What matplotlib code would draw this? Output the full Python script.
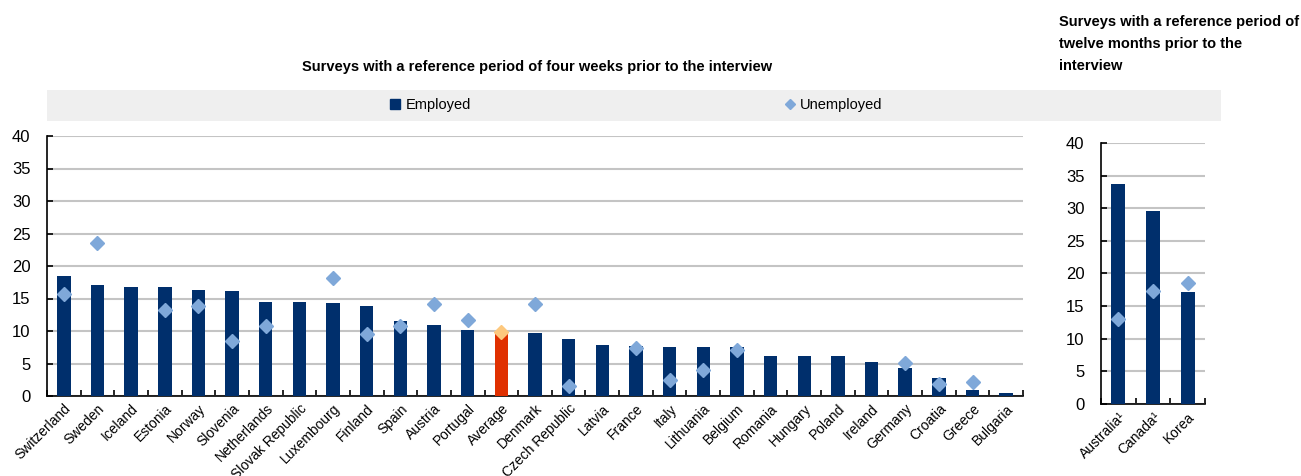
import matplotlib
matplotlib.use("Agg")
import matplotlib.pyplot as plt
from matplotlib.lines import Line2D
from matplotlib.patches import Rectangle
import numpy as np

plt.rcParams['font.family'] = ['Liberation Sans', 'DejaVu Sans']

# Data: share (%) by employment status
countries_4w = ["Switzerland", "Sweden", "Iceland", "Estonia", "Norway", "Slovenia",
                "Netherlands", "Slovak Republic", "Luxembourg", "Finland", "Spain",
                "Austria", "Portugal", "Average", "Denmark", "Czech Republic", "Latvia",
                "France", "Italy", "Lithuania", "Belgium", "Romania", "Hungary",
                "Poland", "Ireland", "Germany", "Croatia", "Greece", "Bulgaria"]
employed_4w = [18.4, 17.1, 16.8, 16.7, 16.3, 16.1, 14.5, 14.4, 14.3, 13.9, 11.5,
               11.0, 10.1, 10.0, 9.7, 8.7, 7.8, 7.7, 7.6, 7.6, 7.5, 6.2, 6.1,
               6.1, 5.2, 4.3, 2.7, 1.0, 0.5]
unemployed_4w = [15.7, 23.6, None, 13.3, 13.8, 8.5, 10.7, None, 18.2, 9.6, 10.8,
                 14.1, 11.7, 9.8, 14.1, 1.6, None, 7.4, 2.4, 4.0, 7.1, None, None,
                 None, None, 5.1, 1.8, 2.2, None]

countries_12m = ["Australia\u00b9", "Canada\u00b9", "Korea"]
employed_12m = [33.7, 29.6, 17.2]
unemployed_12m = [13.0, 17.3, 18.6]

NAVY = "#002F6C"
LIGHT = "#7FA8D9"
RED = "#E03000"
ORANGE = "#FDC87E"
GRID = "#C4C4C4"

fig = plt.figure(figsize=(13.01, 4.76), dpi=100)

# Legend band
fig.patches.append(Rectangle((47 / 1301, 1 - 121 / 476), (1221 - 47) / 1301, 31 / 476,
                             transform=fig.transFigure, facecolor="#EFEFEF",
                             edgecolor="none", zorder=0))

ax1 = fig.add_axes([47 / 1301, 80 / 476, (1023 - 47) / 1301, 260 / 476])
ax2 = fig.add_axes([1101 / 1301, 72 / 476, (1205 - 1101) / 1301, 261 / 476])


def draw_panel(ax, names, emp, unemp):
    x = np.arange(len(names))
    colors = [RED if n == "Average" else NAVY for n in names]
    ax.bar(x, emp, width=0.4, color=colors, zorder=3)
    for xi, n, u in zip(x, names, unemp):
        if u is None:
            continue
        c = ORANGE if n == "Average" else LIGHT
        ax.plot(xi, u, marker="D", markersize=7, color=c, linestyle="none", zorder=4)
    ax.set_xlim(-0.5, len(names) - 0.5)
    ax.set_ylim(0, 40)
    ax.set_yticks(range(0, 41, 5))
    ax.yaxis.grid(True, color=GRID, linewidth=1.5, zorder=0)
    ax.set_axisbelow(True)
    for s in ["top", "right"]:
        ax.spines[s].set_visible(False)
    for s in ["left", "bottom"]:
        ax.spines[s].set_color("black")
        ax.spines[s].set_linewidth(1.2)
    ax.set_xticks(x)
    ax.set_xticklabels(names, rotation=45, ha="right", rotation_mode="anchor", fontsize=10)
    ax.tick_params(axis="x", which="major", length=0, pad=4)
    ax.set_xticks(np.arange(-0.5, len(names) + 0.5, 1), minor=True)
    ax.tick_params(axis="x", which="minor", direction="in", length=4, width=1.2)
    ax.tick_params(axis="y", direction="in", length=4, width=1.2, labelsize=12, pad=12)


draw_panel(ax1, countries_4w, employed_4w, unemployed_4w)
draw_panel(ax2, countries_12m, employed_12m, unemployed_12m)

fig.text(537 / 1301, 1 - 67 / 476, "Surveys with a reference period of four weeks prior to the interview",
         ha="center", va="center", fontsize=10.5, fontweight="bold")
fig.text(1059 / 1301, 1 - 15 / 476,
         "Surveys with a reference period of\ntwelve months prior to the\ninterview",
         ha="left", va="top", fontsize=10.5, fontweight="bold", linespacing=1.75)

handles = [Line2D([], [], marker="s", color=NAVY, linestyle="none", markersize=7),
           Line2D([], [], marker="D", color=LIGHT, linestyle="none", markersize=5)]
fig.legend(handles, ["Employed", "Unemployed"], loc="center", ncol=2,
           bbox_to_anchor=(636 / 1301, 1 - 105 / 476), frameon=False, fontsize=10.5,
           handlelength=0.8, handletextpad=0.3, columnspacing=21.5)

fig.savefig("out.png", dpi=100)
